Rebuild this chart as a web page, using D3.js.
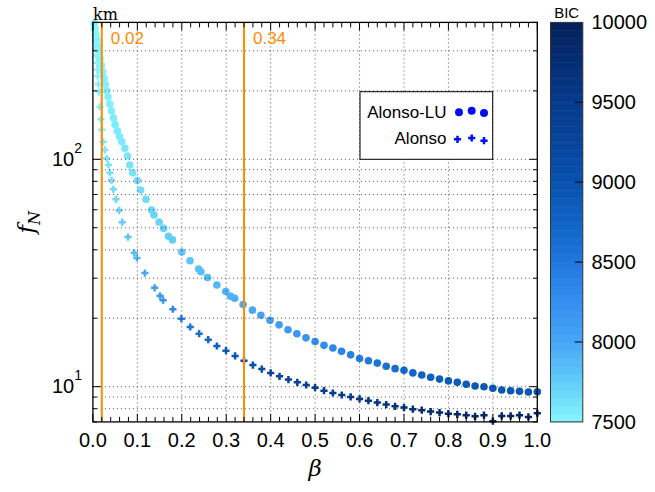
<!DOCTYPE html>
<html>
<head>
<meta charset="utf-8">
<script src="https://cdn.jsdelivr.net/npm/d3@7"></script>
<style>
  body { margin: 0; background: #fff; }
  svg { display: block; font-family: "Liberation Sans", Arial, sans-serif; }
</style>
</head>
<body>
<div id="chart"></div>
<script>
// Alonso-LU points: [beta, f_N, BIC]
const alonsoLU = [
  [0.003, 395, 7500], [0.005, 375, 7500], [0.007, 355, 7500], [0.009, 335, 7510],
  [0.011, 315, 7510], [0.013, 297, 7510], [0.016, 278, 7520], [0.019, 260, 7520],
  [0.022, 243, 7520], [0.025, 228, 7530], [0.028, 214, 7530], [0.031, 200, 7540],
  [0.034, 188, 7540], [0.038, 175, 7550], [0.042, 163, 7550], [0.046, 152, 7560],
  [0.050, 142, 7560], [0.055, 133, 7570], [0.060, 126, 7570], [0.065, 119.5, 7580],
  [0.072, 111.8, 7590], [0.078, 103.4, 7600], [0.083, 94.4, 7610], [0.0895, 87.3, 7620],
  [0.100, 80.6, 7640], [0.1075, 73.3, 7650], [0.1195, 66.7, 7670], [0.132, 59.8, 7690],
  [0.1375, 56.9, 7700], [0.149, 53.0, 7710], [0.159, 49.7, 7720], [0.170, 45.9, 7740],
  [0.179, 44.2, 7750], [0.200, 39.1, 7780], [0.2185, 35.8, 7800], [0.238, 32.9, 7830],
  [0.243, 32.0, 7840], [0.258, 30.2, 7860], [0.279, 28.0, 7880], [0.299, 26.2, 7910],
  [0.310, 25.0, 7930], [0.319, 24.5, 7940], [0.338, 23.0, 7970], [0.359, 21.7, 8000],
  [0.378, 20.6, 8030], [0.3985, 19.6, 8060], [0.419, 18.7, 8090], [0.439, 17.8, 8120],
  [0.459, 17.1, 8160], [0.4795, 16.4, 8200], [0.500, 15.8, 8240], [0.520, 15.2, 8280],
  [0.540, 14.8, 8320], [0.5595, 14.3, 8360], [0.580, 13.8, 8400], [0.600, 13.3, 8440],
  [0.620, 13.0, 8490], [0.640, 12.7, 8540], [0.660, 12.3, 8590], [0.680, 12.0, 8630],
  [0.700, 11.8, 8670], [0.720, 11.5, 8710], [0.740, 11.25, 8750], [0.760, 11.0, 8780],
  [0.780, 10.8, 8810], [0.800, 10.6, 8830], [0.820, 10.45, 8850], [0.840, 10.25, 8870],
  [0.860, 10.07, 8880], [0.880, 10.0, 8890], [0.900, 9.84, 8900], [0.920, 9.67, 8910],
  [0.940, 9.6, 8920], [0.960, 9.54, 8930], [0.980, 9.48, 8940], [1.000, 9.5, 8950]
];

// Alonso points: [beta, f_N, BIC]
const alonso = [
  [0.003, 395, 7500], [0.004, 372, 7500], [0.005, 350, 7500], [0.006, 328, 7510],
  [0.007, 306, 7510], [0.008, 286, 7510], [0.009, 266, 7520], [0.010, 248, 7520],
  [0.011, 232, 7530], [0.0125, 214, 7530], [0.014, 198, 7540], [0.016, 170, 7550],
  [0.018, 150, 7560], [0.020, 135, 7570], [0.023, 119.5, 7580], [0.027, 110, 7590],
  [0.031, 101, 7600], [0.035, 94.5, 7610], [0.038, 87.3, 7630], [0.042, 80.8, 7640],
  [0.046, 73.8, 7660], [0.052, 66.7, 7680], [0.059, 59.6, 7710], [0.066, 52.9, 7740],
  [0.079, 45.5, 7790], [0.093, 38.8, 7860], [0.099, 36.8, 7890], [0.117, 31.6, 7980],
  [0.139, 27.2, 8080], [0.151, 25.1, 8150], [0.158, 24.0, 8190], [0.180, 21.9, 8310],
  [0.199, 19.9, 8420], [0.219, 18.3, 8520], [0.239, 17.1, 8610], [0.2595, 16.1, 8700],
  [0.279, 15.1, 8780], [0.2995, 14.4, 8860], [0.32, 13.65, 8930], [0.34, 13.0, 9000],
  [0.36, 12.45, 9060], [0.38, 11.95, 9120], [0.40, 11.5, 9170], [0.42, 11.1, 9220],
  [0.44, 10.75, 9270], [0.46, 10.45, 9310], [0.48, 10.17, 9350], [0.50, 9.9, 9390],
  [0.52, 9.6, 9430], [0.54, 9.38, 9460], [0.56, 9.19, 9490], [0.58, 9.01, 9520],
  [0.60, 8.83, 9550], [0.62, 8.68, 9580], [0.64, 8.51, 9610], [0.66, 8.34, 9640],
  [0.68, 8.20, 9670], [0.70, 8.09, 9700], [0.72, 7.96, 9720], [0.74, 7.88, 9740],
  [0.76, 7.77, 9760], [0.78, 7.69, 9780], [0.80, 7.61, 9800], [0.82, 7.56, 9820],
  [0.84, 7.49, 9840], [0.86, 7.41, 9850], [0.88, 7.49, 9860], [0.90, 7.05, 9950],
  [0.92, 7.44, 9880], [0.94, 7.44, 9890], [0.96, 7.49, 9890], [0.98, 7.36, 9900],
  [1.00, 7.64, 9900]
];

// marked beta values (orange lines)
const markedBeta = [0.02, 0.34];
const xTicks = [0, 0.1, 0.2, 0.3, 0.4, 0.5, 0.6, 0.7, 0.8, 0.9, 1.0];
const yDecades = [10, 100];
const bicTicks = [7500, 8000, 8500, 9000, 9500, 10000];
const legendNames = ["Alonso-LU", "Alonso"];

// colour map for BIC (light cyan -> navy)
const bicStops = [7500, 7750, 8000, 8250, 8500, 8750, 9000, 9250, 9500, 9750, 10000];
const colorStops = ["#88f6fd", "#62cdf9", "#47a6f5", "#348ff0", "#2077dc", "#0f63c5",
                    "#0752ae", "#06449b", "#053a8b", "#042d73", "#06205a"];

const W = 655, H = 492;
const plot = {left: 92.9, right: 537.3, top: 22.4, bottom: 421.9};
const bar = {left: 550.5, right: 582.8};

const svg = d3.select("#chart").append("svg")
  .attr("width", W).attr("height", H);

const x = d3.scaleLinear().domain([0, 1]).range([plot.left, plot.right]);
const y = d3.scaleLog().domain([7, 400]).range([plot.bottom, plot.top]);
const color = d3.scaleLinear().domain(bicStops).range(colorStops).clamp(true);
const cbY = d3.scaleLinear().domain([7500, 10000]).range([plot.bottom, plot.top]);

// minor y values inside domain
const yMinor = [];
[1, 10, 100].forEach(dec => {
  for (let k = 1; k < 10; k++) {
    const v = dec * k;
    if (v >= 7 && v <= 400) yMinor.push(v);
  }
});
const xMinor = d3.range(0, 1.0001, 0.02);

// markers
const pts = svg.append("g");
pts.selectAll("circle.lu")
  .data(alonsoLU)
  .join("circle")
  .attr("class", "lu")
  .attr("cx", d => x(d[0]))
  .attr("cy", d => y(d[1]))
  .attr("r", 3.8)
  .attr("fill", d => color(d[2]));

const plusPath = "M-3.6,0H3.6M0,-3.6V3.6";
pts.selectAll("path.al")
  .data(alonso)
  .join("path")
  .attr("class", "al")
  .attr("transform", d => `translate(${x(d[0])},${y(d[1])})`)
  .attr("d", plusPath)
  .attr("stroke", d => color(d[2]))
  .attr("stroke-width", 2.5)
  .attr("fill", "none");

// dotted grid
const grid = svg.append("g")
  .attr("stroke", "#333")
  .attr("stroke-width", 1)
  .attr("stroke-dasharray", "1,3")
  .attr("opacity", 0.85);
grid.selectAll("line.gx")
  .data(xTicks.slice(1, -1))
  .join("line")
  .attr("x1", d => x(d)).attr("x2", d => x(d))
  .attr("y1", plot.top).attr("y2", plot.bottom);
grid.selectAll("line.gy")
  .data(yMinor.filter(v => v > 7))
  .join("line")
  .attr("x1", plot.left).attr("x2", plot.right)
  .attr("y1", d => y(d)).attr("y2", d => y(d));

// orange lines
svg.selectAll("line.mark")
  .data(markedBeta)
  .join("line")
  .attr("x1", d => x(d)).attr("x2", d => x(d))
  .attr("y1", plot.top).attr("y2", plot.bottom)
  .attr("stroke", "#ff8c00")
  .attr("stroke-width", 2);
svg.selectAll("text.mark")
  .data(markedBeta)
  .join("text")
  .attr("x", d => x(d) + 9)
  .attr("y", 43.5)
  .attr("fill", "#ff8c00")
  .style("font-size", "17px")
  .text(d => d.toFixed(2));

// ticks (inward on all four sides)
const tk = svg.append("g").attr("stroke", "#000").attr("stroke-width", 1);
xMinor.forEach(v => {
  const major = xTicks.some(t => Math.abs(t - v) < 1e-6);
  const len = major ? 8 : 5;
  tk.append("line").attr("x1", x(v)).attr("x2", x(v)).attr("y1", plot.bottom).attr("y2", plot.bottom - len);
  tk.append("line").attr("x1", x(v)).attr("x2", x(v)).attr("y1", plot.top).attr("y2", plot.top + len);
});
yMinor.forEach(v => {
  const major = yDecades.includes(v);
  const len = major ? 8 : 4;
  tk.append("line").attr("x1", plot.left).attr("x2", plot.left + len).attr("y1", y(v)).attr("y2", y(v));
  tk.append("line").attr("x1", plot.right).attr("x2", plot.right - len).attr("y1", y(v)).attr("y2", y(v));
});

// frame
svg.append("rect")
  .attr("x", plot.left).attr("y", plot.top)
  .attr("width", plot.right - plot.left).attr("height", plot.bottom - plot.top)
  .attr("fill", "none").attr("stroke", "#000").attr("stroke-width", 1.3);

// x tick labels
svg.selectAll("text.xt")
  .data(xTicks)
  .join("text")
  .attr("x", d => x(d))
  .attr("y", 446.5)
  .attr("text-anchor", "middle")
  .style("font-size", "20px")
  .text(d => d.toFixed(1));

// y tick labels (10^1, 10^2)
yDecades.forEach(v => {
  const t = svg.append("text")
    .attr("x", 82).attr("y", y(v) + 6.5)
    .attr("text-anchor", "end")
    .style("font-size", "20px");
  t.append("tspan").text("10");
  t.append("tspan").attr("dy", -13).style("font-size", "14px").text(Math.round(Math.log10(v)));
});

// axis labels
svg.append("text")
  .attr("x", (plot.left + plot.right) / 2)
  .attr("y", 476)
  .attr("text-anchor", "middle")
  .style("font-family", "'DejaVu Serif', serif")
  .style("font-style", "italic")
  .style("font-size", "23px")
  .text("β");

const yl = svg.append("text")
  .attr("transform", `translate(34,${(plot.top + plot.bottom) / 2}) rotate(-90)`)
  .attr("text-anchor", "middle")
  .style("font-family", "'DejaVu Serif', serif")
  .style("font-style", "italic")
  .style("font-size", "23px");
yl.append("tspan").text("f");
yl.append("tspan").attr("dy", 6).style("font-size", "16px").text("N");

svg.append("text")
  .attr("x", 93).attr("y", 20)
  .style("font-family", "'DejaVu Serif', serif")
  .style("font-size", "16px")
  .text("km");

// legend
const lg = svg.append("g");
lg.append("rect")
  .attr("x", 360).attr("y", 91.7)
  .attr("width", 132.7).attr("height", 67.6)
  .attr("fill", "#fff").attr("stroke", "#000").attr("stroke-width", 1);
const legendY = [118.3, 143.5];
lg.selectAll("text")
  .data(legendNames)
  .join("text")
  .attr("x", 446.5)
  .attr("y", (d, i) => legendY[i])
  .attr("text-anchor", "end")
  .style("font-size", "17px")
  .text(d => d);
const luMarks = [[459, 112.3], [471.7, 110.7], [484, 113]];
const alMarks = [[457.5, 139.3], [471.7, 138], [484, 140.7]];
lg.selectAll("circle")
  .data(luMarks)
  .join("circle")
  .attr("cx", d => d[0]).attr("cy", d => d[1]).attr("r", 4)
  .attr("fill", "#0010f0");
lg.selectAll("path")
  .data(alMarks)
  .join("path")
  .attr("transform", d => `translate(${d[0]},${d[1]})`)
  .attr("d", plusPath)
  .attr("stroke", "#0010f0").attr("stroke-width", 2.5);

// colour bar
const nBands = 50;
const bandEdges = d3.range(nBands + 1).map(i => 7500 + i * 2500 / nBands);
svg.append("g").selectAll("rect")
  .data(bandEdges.slice(0, -1))
  .join("rect")
  .attr("x", bar.left)
  .attr("width", bar.right - bar.left)
  .attr("y", (d, i) => cbY(bandEdges[i + 1]))
  .attr("height", (d, i) => cbY(bandEdges[i]) - cbY(bandEdges[i + 1]) + 0.5)
  .attr("fill", (d, i) => color((bandEdges[i] + bandEdges[i + 1]) / 2));
svg.append("rect")
  .attr("x", bar.left).attr("y", plot.top)
  .attr("width", bar.right - bar.left).attr("height", plot.bottom - plot.top)
  .attr("fill", "none").attr("stroke", "#333").attr("stroke-width", 1);
svg.selectAll("line.cbt")
  .data(bicTicks.slice(1, -1))
  .join("line")
  .attr("x1", bar.right - 8).attr("x2", bar.right)
  .attr("y1", d => cbY(d)).attr("y2", d => cbY(d))
  .attr("stroke", "#000").attr("stroke-width", 1);
svg.selectAll("text.cbl")
  .data(bicTicks)
  .join("text")
  .attr("x", 591.5)
  .attr("y", d => cbY(d) + 7)
  .style("font-size", "20px")
  .text(d => d);
svg.append("text")
  .attr("x", (bar.left + bar.right) / 2)
  .attr("y", 18)
  .attr("text-anchor", "middle")
  .style("font-size", "15px")
  .text("BIC");
</script>
</body>
</html>
